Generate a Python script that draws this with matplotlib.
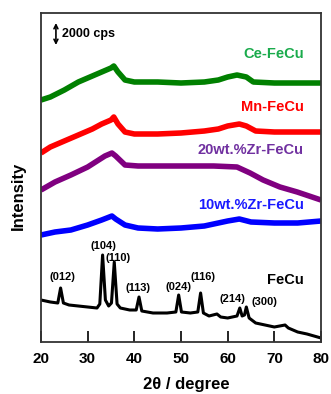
import numpy as np
import matplotlib
matplotlib.use('Agg')
import matplotlib.pyplot as plt

plt.rcParams['font.family'] = ['Liberation Sans', 'DejaVu Sans']
plt.rcParams['font.weight'] = 'bold'

# ---- Data (intensity in a.u., curves already offset; 22 a.u. = 2000 cps) ----
ce_x = [20, 22, 25, 28, 31, 33, 35, 35.6, 36.5, 38, 40, 45, 50, 55, 58, 60, 62, 64, 65.5, 70, 75, 80]
ce_y = [242, 245, 252, 260, 266, 270, 274, 276, 270, 262, 260, 260, 259, 260, 262, 265, 267, 265, 260, 259, 259, 259]

mn_x = [20, 22, 25, 28, 31, 33, 35, 35.6, 36.5, 38, 40, 45, 50, 55, 58, 60, 62.5, 64, 66, 70, 75, 80]
mn_y = [189, 195, 201, 207, 213, 218, 222, 225, 218, 210, 208, 208, 209, 211, 213, 216, 218, 216, 211, 210, 210, 210]

zr20_x = [20, 23, 26.4, 30, 33.7, 35.2, 36, 38, 40.8, 45, 51, 57, 62, 64.8, 67.6, 71.2, 74.9, 80]
zr20_y = [152, 160, 167, 175, 186, 189, 186, 177, 176, 176, 176, 176, 175, 169, 162, 155, 150, 142]

zr10_x = [20, 23, 26.4, 30, 33, 35.2, 36, 38, 40.8, 45, 50, 55, 60, 62.5, 65, 70, 75, 80]
zr10_y = [107, 110, 112, 117, 122, 126, 123, 117, 114, 113, 114, 116, 121, 123, 120, 119, 119, 121]

fecu_x = [20, 22, 23.6, 24.2, 24.8, 26, 28, 30, 32, 32.6, 33.2, 33.8, 34.5, 35.1, 35.7, 36.3,
          37, 39, 40.4, 41.0, 41.6, 44, 47, 48.9, 49.5, 50.1, 52, 53.6, 54.2, 54.8, 56, 57.7,
          58.5, 60, 62.0, 62.6, 63.1, 63.6, 64.0, 64.6, 66, 68, 70, 72.3, 73, 75, 77, 80]
fecu_y = [42, 40, 39, 54, 39, 37, 36, 35, 34, 38, 87, 42, 36, 39, 80, 38,
          34, 32, 32, 45, 31, 29, 29, 30, 47, 30, 29, 30, 49, 29, 26, 28,
          25, 24, 26, 34, 26, 27, 35, 24, 19, 17, 15, 17, 14, 10, 8, 4]

series_labels = ['Ce-FeCu', 'Mn-FeCu', '20wt.%Zr-FeCu', '10wt.%Zr-FeCu', 'FeCu']
label_y = [288, 235, 192, 137, 62]

peak_labels = ['(012)', '(104)', '(110)', '(113)', '(024)', '(116)', '(214)', '(300)']
peak_lab_x = [24.5, 33.3, 36.5, 40.7, 49.4, 54.7, 61.1, 67.8]
peak_lab_y = [65, 96, 84, 54, 55, 65, 43, 40]

# ---- Plot ------------------------------------------------------------------
fig = plt.figure(figsize=(3.31, 3.94), dpi=100)
ax = fig.add_axes([41/331, 1 - 342/394, 280/331, 329/394])

line_kw = dict(solid_joinstyle='round', solid_capstyle='butt')
ax.plot(ce_x, ce_y, color='#008000', lw=4.0, **line_kw)
ax.plot(mn_x, mn_y, color='#ff0000', lw=4.0, **line_kw)
ax.plot(zr20_x, zr20_y, color='#800080', lw=4.0, **line_kw)
ax.plot(zr10_x, zr10_y, color='#0000ff', lw=4.0, **line_kw)
ax.plot(fecu_x, fecu_y, color='black', lw=2.2, **line_kw)

lab_colors = ['#1aab4c', '#ff0000', '#7030a0', '#1a1aff', 'black']
for s, yy, c in zip(series_labels, label_y, lab_colors):
    ax.text(76.3, yy, s, color=c, fontsize=10.5, fontweight='bold', ha='right', va='center')

for s, xx, yy in zip(peak_labels, peak_lab_x, peak_lab_y):
    ax.text(xx, yy, s, fontsize=8, fontweight='bold', ha='center', va='center')

# 2000 cps scale bar
ax.annotate('', xy=(23.2, 319), xytext=(23.2, 297),
            arrowprops=dict(arrowstyle='<->', color='black', lw=1.2,
                            shrinkA=0, shrinkB=0, mutation_scale=7))
ax.text(24.6, 308, '2000 cps', fontsize=9, fontweight='bold', ha='left', va='center')

ax.set_xlim(20, 80)
ax.set_ylim(0, 329)
ax.set_xticks([20, 30, 40, 50, 60, 70, 80])
ax.set_yticks([])
ax.tick_params(axis='x', direction='in', length=8, width=1.2, labelsize=11, pad=7)
for lab in ax.get_xticklabels():
    lab.set_fontweight('bold')
for sp in ax.spines.values():
    sp.set_linewidth(1.3)
    sp.set_color('#333333')

fig.text(186/331, 1 - 385/394, '2θ / degree', fontsize=12, fontweight='bold',
         ha='center', va='center')
fig.text(18/331, 1 - 196/394, 'Intensity', fontsize=12, fontweight='bold',
         ha='center', va='center', rotation=90)

fig.savefig('out.png', dpi=100)
